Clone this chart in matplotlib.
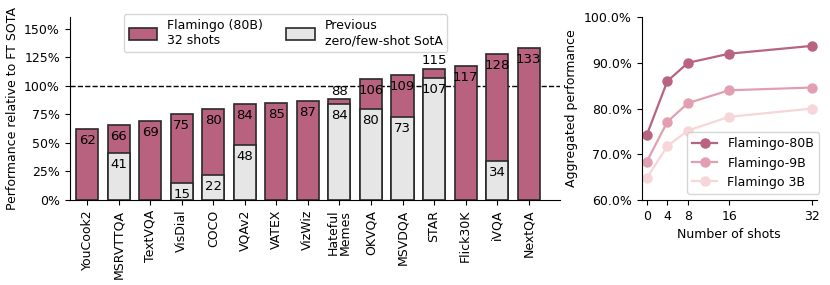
import numpy as np
import matplotlib
matplotlib.use("Agg")
import matplotlib.pyplot as plt
from matplotlib.patches import Patch
from matplotlib.ticker import FuncFormatter

# 데이터
tasks = ["YouCook2", "MSRVTTQA", "TextVQA", "VisDial", "COCO", "VQAv2", "VATEX",
         "VizWiz", "Hateful\nMemes", "OKVQA", "MSVDQA", "STAR", "Flick30K", "iVQA", "NextQA"]
flamingo = [62, 66, 69, 75, 80, 84, 85, 87, 88, 106, 109, 115, 117, 128, 133]
previous = [np.nan, 41, np.nan, 15, 22, 48, np.nan, np.nan, 84, 80, 73, 107, np.nan, 34, np.nan]

shots = [0, 4, 8, 16, 32]
perf_80b = [74.2, 86.0, 90.0, 92.0, 93.7]
perf_9b = [68.4, 77.1, 81.2, 84.0, 84.6]
perf_3b = [64.8, 71.8, 75.2, 78.2, 80.0]

pink = "#b8627f"
grey = "#e6e6e6"
edge = "#2a2a2a"
fs = 9

fig = plt.figure(figsize=(8.3, 2.85), dpi=100)
ax1 = fig.add_axes([0.084, 0.298, 0.591, 0.642])
ax2 = fig.add_axes([0.773, 0.298, 0.211, 0.642])

# 왼쪽 막대 그래프
x = np.arange(len(tasks))
prev = np.array(previous)
has_prev = ~np.isnan(prev)
ax1.bar(x, flamingo, width=0.7, color=pink, edgecolor=edge, linewidth=1.2, zorder=2)
ax1.bar(x[has_prev], prev[has_prev], width=0.7, color=grey, edgecolor=edge,
        linewidth=1.2, zorder=3)

ax1.axhline(100, color="black", linestyle="--", linewidth=1, zorder=1)

for i, (f, p) in enumerate(zip(flamingo, previous)):
    if not np.isnan(p) and f - p < 10:
        ax1.text(i, f + 1, str(f), ha="center", va="bottom", fontsize=9.5, zorder=4)
    else:
        ax1.text(i, f - 10, str(f), ha="center", va="center", fontsize=9.5, zorder=4)
    if not np.isnan(p):
        ax1.text(i, p - 10, str(int(p)), ha="center", va="center", fontsize=9.5, zorder=4)

ax1.set_xlim(-0.55, 15.0)
ax1.set_ylim(0, 160)
ax1.set_yticks([0, 25, 50, 75, 100, 125, 150])
ax1.yaxis.set_major_formatter(FuncFormatter(lambda v, _: f"{v:.0f}%"))
ax1.set_xticks(x)
ax1.set_xticklabels(tasks, rotation=90, fontsize=fs, linespacing=0.95)
ax1.tick_params(axis="y", labelsize=fs)
ax1.set_ylabel("Performance relative to FT SOTA", fontsize=fs)
ax1.spines["top"].set_visible(False)
ax1.spines["right"].set_visible(False)
handles = [Patch(facecolor=pink, edgecolor=edge, linewidth=1.2),
           Patch(facecolor=grey, edgecolor=edge, linewidth=1.2)]
ax1.legend(handles, ["Flamingo (80B)\n32 shots", "Previous\nzero/few-shot SotA"],
           loc="upper center", ncol=2, fontsize=fs, bbox_to_anchor=(0.44, 1.05),
           handlelength=2.3, handleheight=1.0, columnspacing=1.8)

# 오른쪽 선 그래프
ax2.plot(shots, perf_80b, "-o", color="#b8637f", markersize=6.5, linewidth=1.6, label="Flamingo-80B")
ax2.plot(shots, perf_9b, "-o", color="#e29fb2", markersize=6.5, linewidth=1.6, label="Flamingo-9B")
ax2.plot(shots, perf_3b, "-o", color="#f7d6d9", markersize=6.5, linewidth=1.6, label="Flamingo 3B")
ax2.set_xlim(-1, 33)
ax2.set_ylim(60, 100)
ax2.set_xticks(shots)
ax2.set_yticks([60, 70, 80, 90, 100])
ax2.yaxis.set_major_formatter(FuncFormatter(lambda v, _: f"{v:.1f}%"))
ax2.tick_params(labelsize=fs)
ax2.set_xlabel("Number of shots", fontsize=fs)
ax2.set_ylabel("Aggregated performance", fontsize=fs)
ax2.spines["top"].set_visible(False)
ax2.spines["right"].set_visible(False)
ax2.legend(loc="lower right", fontsize=fs, bbox_to_anchor=(1.05, 0.0))

fig.savefig("out.png", dpi=100)
